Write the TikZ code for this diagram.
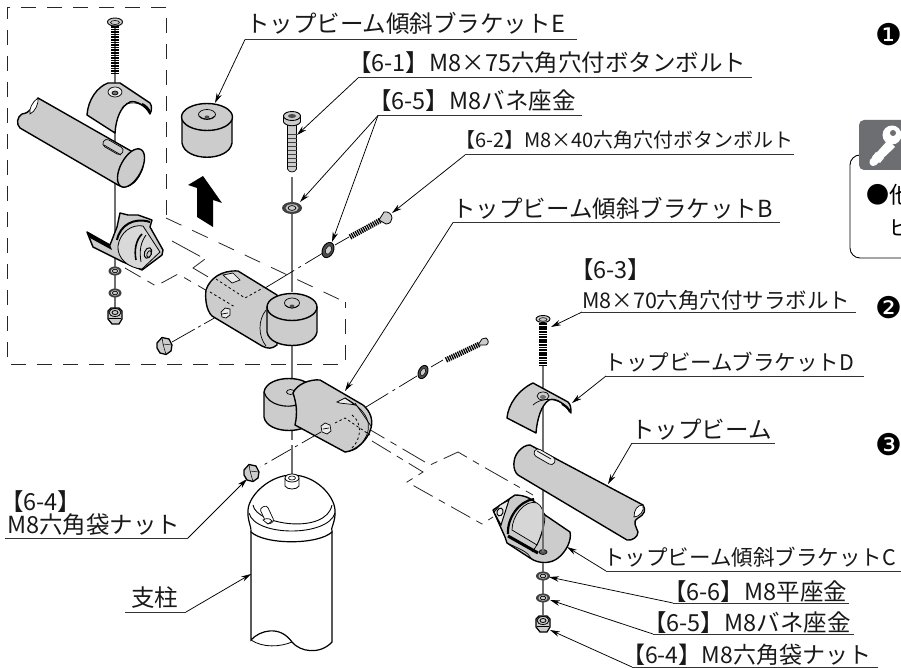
\documentclass[tikz,border=0pt]{standalone}
\usepackage{fontspec}
\usetikzlibrary{arrows.meta}
\newfontfamily\jpf{Noto Sans CJK JP}
\newfontfamily\djf{DejaVu Sans}
\definecolor{partfill}{HTML}{CCCCCC}
\definecolor{keygray}{HTML}{6D6E71}
\definecolor{axisgray}{HTML}{707070}
\tikzset{
 part/.style={draw=black,line width=1.4pt,fill=partfill,line join=round},
 fine/.style={draw=black,line width=.7pt},
 axis/.style={draw=axisgray,line width=1.1pt},
 dd/.style={draw=black,line width=.7pt,dash pattern=on 26pt off 4pt on 3pt off 4pt},
 frame/.style={draw=black!85,line width=.8pt,dash pattern=on 15pt off 11pt},
 hid/.style={draw=black,line width=.8pt,dash pattern=on 2.5pt off 2.5pt},
 leader/.style={draw=black,line width=.75pt,-{Stealth[length=10pt,width=5.5pt]}},
 ul/.style={draw=black!80,line width=1pt},
 lab/.style={anchor=base west,inner sep=0pt,font=\jpf\fontsize{23.5}{24}\selectfont,text=black!90},
 labm/.style={anchor=base west,inner sep=0pt,font=\jpf\fontsize{21.5}{22}\selectfont,text=black!90},
 nar/.style={anchor=base west,inner sep=0pt,font=\jpf\fontsize{20}{21}\selectfont,text=black!90},
 thread/.style={draw=black,line width=8.5pt,dash pattern=on 1.7pt off .9pt},
 circnum/.style={anchor=center,inner sep=0pt,font=\djf\fontsize{30}{31}\selectfont},
}
\newcommand{\washer}[3]{\fill[black!75] (#1) ellipse [x radius=#2,y radius=#3];
 \fill[partfill] (#1) ellipse [x radius=#2*.65,y radius=#3*.62];
 \draw[line width=.7pt] (#1) ellipse [x radius=#2*.4,y radius=#3*.4];}
\newcommand{\nutv}[1]{\begin{scope}[shift={(#1)}]
 \fill[partfill,draw=black,line width=1.2pt] (-7,-5) -- (-4,-8) -- (4,-8) -- (7,-5) -- (7,3) -- (4,8) -- (-3,8) -- (-7,3) -- cycle;
 \draw[line width=.8pt] (0,-3.5) ellipse [x radius=6,y radius=4];
 \draw[line width=.8pt] (0,-3.5) ellipse [x radius=3,y radius=2];
 \draw[line width=.6pt] (-6,2) -- (6,2);
 \end{scope}}
\newcommand{\hexnut}[1]{\begin{scope}[shift={(#1)}]
 \fill[partfill,draw=black,line width=1.3pt] (-8,-3) -- (-3,-8.5) -- (4,-7) -- (7,-1) -- (6,5) -- (1,8.5) -- (-5,7) -- (-8,2) -- cycle;
 \draw[line width=.5pt] (-3,-8.5) -- (-2,-2) -- (1,8.5) (-2,-2) -- (7,-1);
 \end{scope}}
\begin{document}
\begin{tikzpicture}[x=1pt,y=-1pt]
\useasboundingbox (0,0) rectangle (901,668);
\clip (0,0) rectangle (901,668);
\fill[white] (0,0) rectangle (901,668);

% ---- dashed group frame
\draw[frame] (166,215) -- (166,7) -- (7,7) -- (7,364) -- (345,364) -- (345,302);
\draw[frame,dash pattern=on 17pt off 12pt] (166,218) -- (345,302);
\draw[frame,dash pattern=on 18pt off 8pt on 8pt off 8pt] (125,268) -- (156,286) -- (178,274) -- (235,307);
\draw[frame,dash pattern=on 32pt off 6pt] (172,241) -- (205,259) -- (193,268) -- (210,278);
\draw[frame,dash pattern=on 26pt off 7pt on 7pt off 7pt] (362,425) -- (430,465) -- (458,452) -- (482,466) -- (533,495);
\draw[frame,dash pattern=on 22pt off 7pt on 7pt off 7pt] (372,441) -- (423,472) -- (407,482) -- (482,524) -- (493,517);

% ---- left axis and parts
\draw[axis] (115,20) -- (115,320);
\draw[thread] (115,26) -- (115,74);
\draw[part,line width=.9pt] (115,22) ellipse [x radius=7.5,y radius=4];
\draw[line width=.6pt] (115,22.5) ellipse [x radius=4.5,y radius=2];

% left saddle
\path[part] (87,115) .. controls (88,100) and (97,87) .. (108,83) -- (120,83) -- (150,103) .. controls (152,106) and (152,110) .. (150,114) .. controls (146,106) and (136,100) .. (130,102) .. controls (121,106) and (116,118) .. (115,133) -- cycle;
\draw[line width=.7pt] (122,108) .. controls (127,101) and (140,100) .. (150,112);
\draw[line width=2.2pt] (142,104) .. controls (146,106) and (149,109) .. (150,113);
\draw[fine,fill=white!60!partfill] (115,92) ellipse [x radius=7,y radius=5];
\draw[fine,fill=axisgray] (115,93) ellipse [x radius=3,y radius=2];

% left tube
\path[part] (38,98) -- (138,155) .. controls (142,157) and (145,165) .. (141,172) .. controls (136,184) and (126,190) .. (118,185) -- (20,128) .. controls (16,124) and (17,117) .. (22,114) .. controls (30,113) and (33,107) .. (38,98) -- cycle;
\draw[part] (131,168) ellipse [x radius=21,y radius=10.5,rotate=62];
\path[fine,fill=white] (38,98) .. controls (32,102) and (29,109) .. (30,114) .. controls (35,112) and (39,103) .. (38,98);
\draw[fine,fill=partfill,rounded corners=3.8pt,rotate around={-30:(113,147)}] (102,143) rectangle (124,151);
\draw[fine] (104,145) -- (121,155);

% left bracket
\path[part] (120,213) -- (128,215) -- (138,215) -- (152,220) -- (150,227) -- (163,250) -- (162,255) -- (142,270) -- (123,262) -- (93,247) -- (87,232) -- (110,245) -- (117,227) -- cycle;
\fill[black] (87,232) -- (110,245) -- (112,250) -- (90,238) -- cycle;
\draw[line width=2pt] (117,240) .. controls (120,225) and (134,217) .. (150,222);
\fill[white!25!partfill,draw=black,line width=.8pt] (118,246) .. controls (120,232) and (132,224) .. (143,226) -- (160,252) -- (142,269) .. controls (128,268) and (117,258) .. (118,246) -- cycle;
\draw[line width=1.6pt] (136,260) .. controls (134,250) and (136,240) .. (142,234);
\draw[line width=.8pt] (141,262) .. controls (139,250) and (141,242) .. (146,235);
\draw[line width=1pt] (148,253) ellipse [x radius=5.5,y radius=3.5,rotate=70];
\draw[line width=.8pt,fill=partfill] (149,254) ellipse [x radius=3.5,y radius=2,rotate=70];
\washer{115,271}{6.5}{4.5}
\washer{115,293}{6.5}{4.5}
\nutv{115,316}

% arrow and cylinder E
\fill[black] (188,185) -- (203,176) -- (222,203) -- (213,200) -- (213,227) -- (197,217) -- (197,188) -- cycle;
\path[part] (182,117) -- (182,143) .. controls (185,162) and (229,162) .. (232,143) -- (232,117) -- cycle;
\draw[part] (207,117) ellipse [x radius=25.5,y radius=13.5];
\draw[fine] (207,114.5) ellipse [x radius=8.5,y radius=5];
\draw[fine] (199,116) .. controls (203,120) and (211,120) .. (215,116);
\fill[black!70] (207,117) ellipse [x radius=2.5,y radius=1.5];

% ---- centre axis
\draw[axis] (292,177) -- (292,292);
\draw[axis] (292,345) -- (292,382);
\draw[axis] (292,405) -- (292,440);
\draw[axis] (292,445) -- (292,475);

% bolt 6-1
\draw[part,line width=.7pt,fill=partfill] (287.5,122) -- (287.5,169) .. controls (289,173) and (295,173) .. (296.5,169) -- (296.5,122) -- cycle;
\foreach \yy in {134,138,...,168} {\draw[line width=.5pt,black!75] (287.5,\yy) -- (296.5,\yy);}
\draw[part,line width=.9pt] (283.5,116) -- (283.5,122) .. controls (286,127) and (298,127) .. (300.5,122) -- (300.5,116) -- cycle;
\draw[part,line width=.9pt] (292,116) ellipse [x radius=8.5,y radius=4.5];
\fill[black!70] (292,116) ellipse [x radius=4,y radius=2];
\washer{292,208}{10}{6}

% assembled bracket B + cylinder (upper)
\draw[dd] (172,342) -- (225,312);
\path[part] (206,290) .. controls (210,278) and (222,270) .. (238,271) -- (277,295) -- (277,345) .. controls (272,349) and (268,349) .. (262,346) -- (212,316) .. controls (206,310) and (205,298) .. (206,290) -- cycle;
\draw[fine] (266,346) .. controls (258,336) and (258,320) .. (266,310);
\draw[fine,fill=white!60!partfill] (223,275) -- (233,273) -- (240,280) -- (232,283) -- cycle;
\draw[hid] (210,292) -- (235,307);
\draw[hid] (216,279) -- (245,298) -- (263,288);
\draw[fine,fill=white!60!partfill] (221,312) -- (225,308) -- (230,309) -- (230,315) -- (226,318) -- (222,317) -- cycle;
\draw[fine] (222,314) -- (228,313);
\path[part] (267,307) -- (267,332) .. controls (270,350) and (314,350) .. (317,332) -- (317,307) -- cycle;
\draw[part] (292,307) ellipse [x radius=25,y radius=13.5];
\draw[fine] (292,303) ellipse [x radius=7.5,y radius=5];
\draw[fine] (285,305) .. controls (289,309) and (295,309) .. (299,305);
\fill[black!70] (292,306) ellipse [x radius=2.5,y radius=1.5];
\hexnut{165,346}

% washer 6-5 tilted + screw 6-2
\draw[dd,dash pattern=on 34pt off 5pt on 3pt off 5pt] (265,288) -- (323,253);
\draw[fine] (335,245) -- (349,237);
\draw[part,line width=.9pt,fill=black!70] (328,250) ellipse [x radius=8,y radius=5.5,rotate=65];
\draw[part,line width=.5pt,fill=partfill] (328.5,250) ellipse [x radius=4.5,y radius=2.8,rotate=65];
\draw[line width=5.5pt,black,dash pattern=on 1.3pt off .9pt] (350,237) -- (381,220);
\draw[part,line width=.8pt] (379,220) -- (384,212) .. controls (388,211) and (392,214) .. (392,218) .. controls (392,221) and (390,224) .. (386,224) -- cycle;

% ---- lower bracket B + cylinder
\path[part] (264,392) -- (264,417) .. controls (267,435) and (311,435) .. (314,417) -- (314,392) .. controls (311,374) and (267,374) .. (264,392) -- cycle;
\draw[part,line width=1.1pt,fill=none] (264,392) .. controls (268,406) and (288,408) .. (296,405);
\fill[partfill] (290,392) ellipse [x radius=4,y radius=2.5];
\draw[fine] (290.5,392) ellipse [x radius=4,y radius=2.5];
\path[part] (293,393) .. controls (297,384) and (310,379) .. (320,380) -- (363,405) .. controls (371,412) and (373,420) .. (371,428) .. controls (368,440) and (356,451) .. (345,452) -- (295,425) .. controls (298,412) and (296,402) .. (293,393) -- cycle;
\draw[fine,fill=white!60!partfill] (337,402) -- (345,398) -- (355,405) .. controls (345,403) and (340,404) .. (337,402) -- cycle;
\draw[fine] (345,398) .. controls (367,410) and (374,425) .. (364,440) .. controls (360,447) and (355,451) .. (345,452);
\draw[hid] (335,423) -- (345,418) -- (370,435);
\draw[hid] (352,415) .. controls (362,422) and (362,438) .. (352,448);
\draw[fine] (355,403) -- (371,426);
\draw[fine,fill=white!60!partfill] (321,426) -- (325,423) -- (330,425) -- (331,431) -- (327,434) -- (322,432) -- cycle;
\draw[fine] (323,429) -- (329,428);
\draw[dd,dash pattern=on 22pt off 5pt on 3pt off 5pt] (321,432) -- (260,467);
\hexnut{252,473}
\draw[dd,dash pattern=on 26pt off 5pt on 3pt off 5pt] (366,407) -- (417,376);
\draw[part,line width=.9pt,fill=black!70] (423,372) ellipse [x radius=7,y radius=4.5,rotate=65];
\draw[part,line width=.5pt,fill=partfill] (423,372) ellipse [x radius=3.8,y radius=2.3,rotate=65];
\draw[fine] (431,367) -- (443,360);
\draw[line width=5.5pt,black,dash pattern=on 1.3pt off .9pt] (446,360) -- (480,344);
\draw[part,line width=.8pt] (478,345) -- (482,339) -- (486,338) .. controls (489,340) and (489,344) .. (486,345) -- cycle;

% ---- column
\path[draw=black,line width=1.2pt,fill=white] (251,532) -- (251,640) .. controls (260,630) and (280,625) .. (292,642) .. controls (300,652) and (320,655) .. (332,642) -- (332,532) -- cycle;
\draw[line width=.8pt] (251,640) .. controls (263,648) and (280,647) .. (292,642);
\path[draw=black,line width=1.2pt,fill=white] (248,510) .. controls (249,495) and (270,475) .. (292,475) .. controls (315,475) and (334,495) .. (335,510) .. controls (336,522) and (330,528) .. (332,532) .. controls (318,545) and (265,545) .. (251,532) .. controls (252,528) and (247,520) .. (248,510) -- cycle;
\draw[line width=.9pt] (253,505) .. controls (256,525) and (326,535) .. (332,505);
\draw[line width=.9pt] (249,513) .. controls (255,537) and (328,537) .. (335,513);
\draw[fine,fill=white,rounded corners=3pt,rotate around={-65:(267,515)}] (258,511) rectangle (276,519);
\draw[fine,fill=white] (263,520) .. controls (266,518) and (270,518) .. (272,521) -- (268,524) -- cycle;
\draw[line width=.8pt,fill=white] (285,478) -- (285,486) .. controls (287,490) and (297,490) .. (299,486) -- (299,478);
\draw[line width=.8pt,fill=white] (292,478) ellipse [x radius=7,y radius=4];
\draw[line width=.6pt] (292,478) ellipse [x radius=3.5,y radius=2];

% ---- right assembly
\draw[axis] (543,366) -- (543,560);
\draw[thread] (543,318) -- (543,365);
\draw[part,line width=.9pt] (543,319) ellipse [x radius=7,y radius=3.5];
\draw[line width=.6pt] (543,319.5) ellipse [x radius=4,y radius=1.8];

% right saddle
\path[part] (507,418) .. controls (508,405) and (518,390) .. (533,383) -- (568,402) .. controls (571,405) and (571,409) .. (571,413) .. controls (566,405) and (556,397) .. (549,400) .. controls (541,405) and (537,420) .. (536,433) -- cycle;
\draw[fine] (533,405) .. controls (539,399) and (555,395) .. (568,408);
\draw[line width=2.2pt] (562,404) .. controls (566,406) and (569,409) .. (570,412);
\draw[fine] (543,396) ellipse [x radius=6,y radius=4];
\fill[axisgray] (543,397) ellipse [x radius=3,y radius=2];

% right tube
\path[part] (530,445) -- (643,505) .. controls (646,510) and (645,514) .. (638,518) .. controls (632,522) and (636,526) .. (638,532) .. controls (638,537) and (632,541) .. (627,540) -- (518,475) .. controls (512,470) and (513,458) .. (518,452) .. controls (522,447) and (526,445) .. (530,445) -- cycle;
\path[fine,fill=white] (643,505) .. controls (637,505) and (634,510) .. (634,517) .. controls (639,517) and (645,511) .. (643,505);
\draw[fine,fill=white!60!partfill,rounded corners=3.8pt,rotate around={-30:(545,457)}] (533,453) rectangle (556,461);
\draw[fine] (537,451) -- (551,459);

% bracket C
\path[part] (493,510) -- (515,495) .. controls (526,495) and (535,500) .. (540,508) .. controls (543,512) and (544,514) .. (545,515) -- (570,532) .. controls (572,540) and (566,552) .. (558,558) .. controls (552,563) and (540,565) .. (530,558) -- (507,543) -- (505,537) -- cycle;
\draw[line width=1pt,fill=white!60!partfill] (500,505) -- (509,500) -- (501,525) -- (494,512) -- cycle;
\draw[line width=1pt] (500,512) ellipse [x radius=4,y radius=3,rotate=70];
\draw[line width=2.2pt] (508,534) .. controls (507,518) and (519,501) .. (534,499);
\draw[fine,fill=white!20!partfill] (512,530) .. controls (512,516) and (525,499) .. (537,503) .. controls (546,508) and (546,525) .. (537,545) -- cycle;
\draw[line width=3pt] (508,536) -- (538,553);
\draw[fine] (507,543) .. controls (520,549) and (528,552) .. (531,558);
\draw[fine] (545,515) .. controls (545,530) and (538,545) .. (532,552);
\draw[fine,fill=black!65] (543,552) ellipse [x radius=4,y radius=2.5];
\draw[axis] (543,498) -- (543,552);
\draw[axis] (543,563) -- (543,615);
\washer{543,576}{7}{4.5}
\washer{543,598}{7}{4.5}
\nutv{543,624}

% ---- labels
\node[lab] (tE) at (246,33) {トップビーム傾斜ブラケットE};
\coordinate (tEa) at (245,39.5); \coordinate (tEb) at (577,39.5); \coordinate (tEc) at (215,103);
\draw[ul] (tEb) -- (tEa); \draw[leader] (tEa) -- (tEc);

\node[lab] (t61) at (348,72) {【6-1】M8×75六角穴付ボタンボルト};
\coordinate (t61a) at (358,78); \coordinate (t61b) at (752,78); \coordinate (t61c) at (297,135);
\draw[ul] (t61b) -- (t61a); \draw[leader] (t61a) -- (t61c);

\node[lab] (t65) at (368,110) {【6-5】M8バネ座金};
\coordinate (t65a) at (378,115.5); \coordinate (t65b) at (582,115.5); \coordinate (t65c) at (300,202); \coordinate (t65d) at (332,242);
\draw[ul] (t65b) -- (t65a); \draw[leader] (t65a) -- (t65c); \draw[leader] (t65a) -- (t65d);

\node[nar] (t62) at (455,148) {【6-2】M8×40六角穴付ボタンボルト};
\coordinate (t62a) at (465,155); \coordinate (t62b) at (794,155); \coordinate (t62c) at (392,213);
\draw[ul] (t62b) -- (t62a); \draw[leader] (t62a) -- (t62c);

\node[lab] (tB) at (452,218) {トップビーム傾斜ブラケットB};
\coordinate (tBa) at (453,222.5); \coordinate (tBb) at (780,222.5); \coordinate (tBc) at (345,391);
\draw[ul] (tBb) -- (tBa); \draw[leader] (tBa) -- (tBc);

\node[lab] (t63) at (570,278) {【6-3】};
\node[labm] (t63b) at (582,308) {M8×70六角穴付サラボルト};
\coordinate (t63a) at (582,312); \coordinate (t63e) at (856,312); \coordinate (t63c) at (551,327);
\draw[ul] (t63e) -- (t63a); \draw[leader] (t63a) -- (t63c);

\node[labm] (tD) at (604.5,370) {トップビームブラケットD};
\coordinate (tDa) at (606,376); \coordinate (tDb) at (864,376); \coordinate (tDc) at (572,403);
\draw[ul] (tDb) -- (tDa); \draw[leader] (tDa) -- (tDc);

\node[lab] (tT) at (631,438) {トップビーム};
\coordinate (tTa) at (632,443); \coordinate (tTb) at (775,443); \coordinate (tTc) at (608,484);
\draw[ul] (tTb) -- (tTa); \draw[leader] (tTa) -- (tTc);

\node[labm] (tC) at (603,565) {トップビーム傾斜ブラケットC};
\coordinate (tCa) at (606,571); \coordinate (tCb) at (901,571); \coordinate (tCc) at (567,547);
\draw[ul] (tCb) -- (tCa); \draw[leader] (tCa) -- (tCc);

\node[lab] (t66) at (663,600) {【6-6】M8平座金};
\coordinate (t66a) at (673,603); \coordinate (t66b) at (849,603); \coordinate (t66c) at (549,577);
\draw[ul] (t66b) -- (t66a); \draw[leader] (t66a) -- (t66c);

\node[lab] (t65x) at (643,631) {【6-5】M8バネ座金};
\coordinate (t65e) at (653,634); \coordinate (t65f) at (854,634); \coordinate (t65g) at (550,600);
\draw[ul] (t65f) -- (t65e); \draw[leader] (t65e) -- (t65g);

\node[lab,font=\jpf\fontsize{23}{24}\selectfont] (t64) at (622,663) {【6-4】M8六角袋ナット};
\coordinate (t64a) at (632,667); \coordinate (t64b) at (878,667); \coordinate (t64c) at (550,630);
\draw[ul] (t64b) -- (t64a); \draw[leader] (t64a) -- (t64c);

\node[lab] (t64l) at (0,510) {【6-4】};
\node[lab] (t64m) at (7,533) {M8六角袋ナット};
\coordinate (t64p) at (5,538); \coordinate (t64q) at (188,538); \coordinate (t64r) at (247,479);
\draw[ul] (t64p) -- (t64q); \draw[leader] (t64q) -- (t64r);

\node[lab] (tS) at (131,606) {支柱};
\coordinate (tSa) at (125,612); \coordinate (tSb) at (186,612); \coordinate (tSc) at (251,574);
\draw[ul] (tSa) -- (tSb); \draw[leader] (tSb) -- (tSc);

% ---- right margin
\node[circnum] (n1) at (889,35) {❶};
\node[circnum] (n2) at (889,308) {❷};
\node[circnum] (n3) at (889,445) {❸};

\draw[line width=.9pt,rounded corners=10pt] (920,258) -- (850,258) -- (850,155) -- (920,155);
\fill[keygray,rounded corners=5pt] (859,120) rectangle (920,170);
\fill[white] (892,135) circle [radius=9.5];
\fill[white] (888,140) -- (895,147) -- (876,165) .. controls (872,168) and (868,164) .. (870,160) -- cycle;
\fill[white] (876,152) -- (884,158) -- (880,163) -- (872,157) -- cycle;
\fill[keygray] (893,133) circle [radius=3];
\node[anchor=base west,inner sep=0pt,font=\jpf\fontsize{23}{24}\selectfont] (b1) at (866,204) {●他};
\node[anchor=base west,inner sep=0pt,font=\jpf\fontsize{21}{22}\selectfont] (b2) at (889,236) {ビ};
\end{tikzpicture}
\end{document}
